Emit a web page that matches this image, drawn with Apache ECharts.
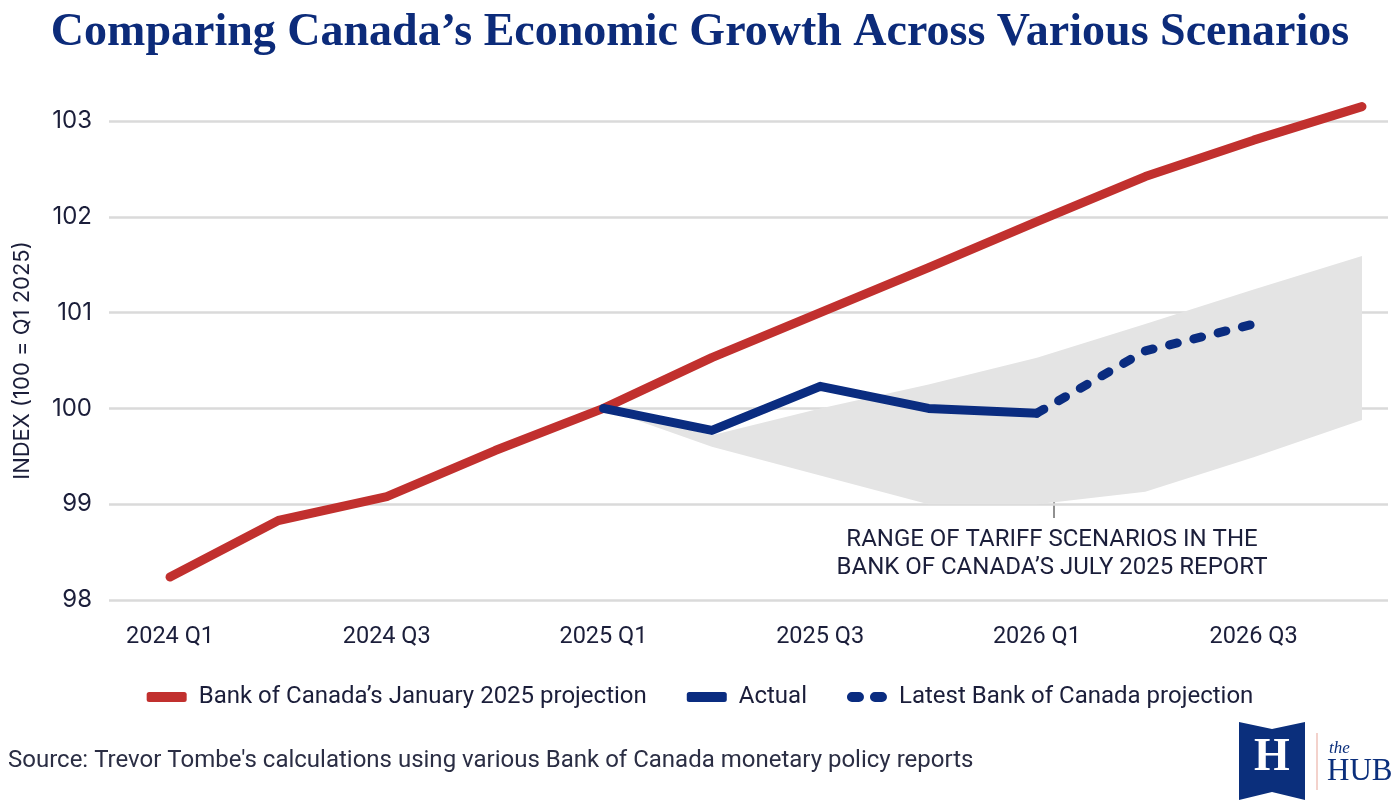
<!DOCTYPE html>
<html>
<head>
<meta charset="utf-8">
<title>Comparing Canada's Economic Growth Across Various Scenarios</title>
<script src="https://cdn.jsdelivr.net/npm/echarts@6.0.0/dist/echarts.min.js"></script>
<style>
  html, body { margin: 0; padding: 0; background: #ffffff; }
  #main { width: 1400px; height: 807px; }
</style>
</head>
<body>
<div id="main"></div>
<script>
// quarters on the x axis
var quarters = ['2024 Q1', '2024 Q2', '2024 Q3', '2024 Q4',
                '2025 Q1', '2025 Q2', '2025 Q3', '2025 Q4',
                '2026 Q1', '2026 Q2', '2026 Q3', '2026 Q4'];
var quarterLabels = ['2024 Q1', '2024 Q3', '2025 Q1', '2025 Q3', '2026 Q1', '2026 Q3'];

// Bank of Canada's January 2025 projection (all quarters)
var januaryProjection = [98.24, 98.83, 99.08, 99.56, 100.0, 100.53, 101.0, 101.47, 101.95, 102.42, 102.8, 103.15];

// actual, 2025 Q1 .. 2026 Q1
var actualStart = 4;
var actual = [100.0, 99.77, 100.23, 100.0, 99.95];

// latest projection, 2026 Q1 .. 2026 Q3
var latestStart = 8;
var latestProjection = [99.95, 100.6, 100.88];

// range of tariff scenarios, 2025 Q1 .. 2026 Q4
var rangeStart = 4;
var rangeUpper = [100.0, 99.72, 100.0, 100.25, 100.53, 100.88, 101.24, 101.59];
var rangeLower = [100.0, 99.6, 99.3, 99.0, 99.0, 99.13, 99.49, 99.88];

var yTicks = [98, 99, 100, 101, 102, 103];

var RED = '#c1302e';
var NAVY = '#0a2c80';
var TEXT = '#1b1e3a';
var SANS = "Roboto, 'Noto Sans', sans-serif";

// turn a list of values into [index, value] pairs
function toPairs(values, start) {
    return values.map(function(v, i) { return [start + i, v]; });
}

var chart = echarts.init(document.getElementById('main'), null, { renderer: 'canvas' });

var dashIcon = 'path://M5,0 H12 A5,5 0 0 1 12,10 H5 A5,5 0 0 1 5,0 Z M28,0 H35 A5,5 0 0 1 35,10 H28 A5,5 0 0 1 28,0 Z';

var option = {
    backgroundColor: '#ffffff',
    animation: false,
    title: {
        text: 'Comparing Canada\u2019s Economic Growth Across Various Scenarios',
        left: 'center',
        top: 5,
        textStyle: {
            fontFamily: "'Liberation Serif', 'DejaVu Serif', serif",
            fontWeight: 'bold',
            fontSize: 46,
            color: '#0c2b7a'
        }
    },
    legend: {
        top: 680,
        left: 'center',
        itemWidth: 40,
        itemHeight: 10,
        itemGap: 40,
        textStyle: { fontFamily: SANS, fontSize: 24, color: TEXT, padding: [0, 0, 0, 7] },
        data: [
            { name: 'Bank of Canada\u2019s January 2025 projection', icon: 'roundRect' },
            { name: 'Actual', icon: 'roundRect' },
            { name: 'Latest Bank of Canada projection', icon: dashIcon }
        ]
    },
    grid: { left: 109, right: 12, top: 121, bottom: 207 },
    xAxis: {
        type: 'value',
        min: -0.563,
        max: 11.24,
        axisLine: { show: false },
        axisTick: { show: false },
        splitLine: { show: false },
        axisLabel: {
            customValues: quarterLabels.map(function(q) { return quarters.indexOf(q); }),
            formatter: function(v) { return quarters[Math.round(v)]; },
            margin: 25,
            fontFamily: SANS,
            fontSize: 23.5,
            color: TEXT
        }
    },
    yAxis: {
        type: 'value',
        min: yTicks[0],
        max: yTicks[yTicks.length - 1],
        interval: 1,
        name: 'INDEX (100 = Q1 2025)',
        nameLocation: 'middle',
        nameGap: 76,
        nameTextStyle: { fontFamily: "Inter, Roboto, sans-serif", fontSize: 22, color: TEXT },
        axisLine: { show: false },
        axisTick: { show: false },
        splitLine: { lineStyle: { color: '#dadada', width: 2.5 } },
        axisLabel: { margin: 17, fontFamily: "Inter, Roboto, sans-serif", fontSize: 24, color: TEXT }
    },
    series: [
        {
            name: 'range',
            type: 'custom',
            z: 1,
            silent: true,
            data: [[rangeStart, rangeUpper[0]]],
            renderItem: function(params, api) {
                var pts = [];
                rangeUpper.forEach(function(v, i) { pts.push(api.coord([rangeStart + i, v])); });
                for (var i = rangeLower.length - 1; i >= 0; i--) {
                    pts.push(api.coord([rangeStart + i, rangeLower[i]]));
                }
                return { type: 'polygon', shape: { points: pts }, style: { fill: '#e4e4e4' } };
            }
        },
        {
            name: 'Bank of Canada\u2019s January 2025 projection',
            type: 'line',
            z: 3,
            clip: false,
            data: toPairs(januaryProjection, 0),
            symbol: 'none',
            color: RED,
            lineStyle: { color: RED, width: 9, cap: 'round', join: 'round' }
        },
        {
            name: 'Actual',
            type: 'line',
            z: 4,
            data: toPairs(actual, actualStart),
            symbol: 'none',
            color: NAVY,
            lineStyle: { color: NAVY, width: 9, cap: 'round', join: 'round' }
        },
        {
            name: 'Latest Bank of Canada projection',
            type: 'line',
            z: 4,
            data: toPairs(latestProjection, latestStart),
            symbol: 'none',
            color: NAVY,
            lineStyle: { color: NAVY, width: 9, type: [8, 17], cap: 'round', join: 'round' }
        }
    ],
    graphic: [
        // annotation for the shaded range
        { type: 'line', shape: { x1: 1054, y1: 473, x2: 1054, y2: 518 }, style: { stroke: '#6b6b6b', lineWidth: 1.5 } },
        {
            type: 'text',
            style: {
                text: 'RANGE OF TARIFF SCENARIOS IN THE\nBANK OF CANADA\u2019S JULY 2025 REPORT',
                x: 1052, y: 526, align: 'center', lineHeight: 28,
                font: "24px " + SANS, fill: TEXT
            }
        },
        // source
        {
            type: 'text',
            style: {
                text: 'Source: Trevor Tombe\'s calculations using various Bank of Canada monetary policy reports',
                x: 8, y: 749,
                font: "24px " + SANS, fill: '#2b2e44'
            }
        },
        // the hub logo
        {
            type: 'polygon',
            shape: { points: [[1239, 722], [1272, 729], [1305, 722], [1305, 800], [1272, 792], [1239, 800]] },
            style: { fill: '#0b2f7c' }
        },
        {
            type: 'text',
            style: { text: 'H', x: 1272, y: 735, align: 'center', font: "bold 46px 'Liberation Serif', serif", fill: '#ffffff' }
        },
        { type: 'line', shape: { x1: 1317, y1: 733, x2: 1317, y2: 790 }, style: { stroke: '#efc3bb', lineWidth: 1.5 } },
        {
            type: 'text',
            style: { text: 'the', x: 1329, y: 740, font: "italic 17px 'Liberation Serif', serif", fill: '#0b2f7c' }
        },
        {
            type: 'text',
            style: { text: 'HUB', x: 1327, y: 756, font: "31px 'Liberation Serif', serif", fill: '#0b2f7c' }
        }
    ]
};

chart.setOption(option);
</script>
</body>
</html>
